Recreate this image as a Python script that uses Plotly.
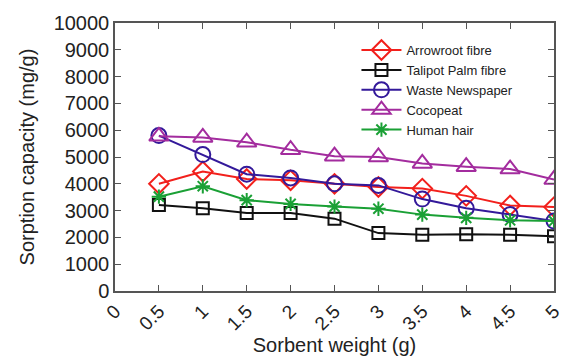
import plotly.graph_objects as go

sorbent_weight = [0.5, 1, 1.5, 2, 2.5, 3, 3.5, 4, 4.5, 5]
arrowroot = [4000, 4460, 4180, 4130, 4000, 3880, 3820, 3550, 3190, 3130]
talipot = [3210, 3090, 2910, 2910, 2700, 2160, 2100, 2120, 2100, 2040]
newspaper = [5800, 5090, 4360, 4220, 4000, 3940, 3430, 3090, 2850, 2610]
cocopeat = [5770, 5730, 5550, 5270, 5030, 5000, 4760, 4640, 4550, 4160]
human_hair = [3520, 3910, 3390, 3250, 3150, 3070, 2850, 2730, 2640, 2610]

x_ticks = [0, 0.5, 1, 1.5, 2, 2.5, 3, 3.5, 4, 4.5, 5]
x_tick_labels = ["0", "0.5", "1", "1.5", "2", "2.5", "3", "3.5", "4", "4.5", "5"]
y_ticks = list(range(0, 10001, 1000))
y_tick_labels = [str(v) for v in y_ticks]

series = [
    ("Arrowroot fibre", arrowroot, "#f2201c", "diamond-open", 15),
    ("Talipot Palm fibre", talipot, "#111111", "square-open", 12),
    ("Waste Newspaper", newspaper, "#33199a", "circle-open", 15),
    ("Cocopeat", cocopeat, "#a32c9e", "triangle-up-open", 17),
    ("Human hair", human_hair, "#1aa035", "asterisk-open", 12),
]

fig = go.Figure()
for name, vals, col, sym, sz in series:
    fig.add_trace(go.Scatter(
        x=sorbent_weight, y=vals, name=name, mode="lines+markers",
        line=dict(color=col, width=2),
        marker=dict(symbol=sym, size=sz, color=col, line=dict(color=col, width=2)),
    ))

font = "Liberation Sans, Arial, sans-serif"
fig.update_layout(
    width=576, height=364,
    margin=dict(l=115, r=19, t=17, b=72),
    paper_bgcolor="white", plot_bgcolor="white",
    font=dict(family=font, color="#222222", size=20),
    showlegend=True,
    legend=dict(x=0.55, y=0.955, xanchor="left", yanchor="top",
                bgcolor="rgba(0,0,0,0)", font=dict(size=13, color="#222222"),
                tracegroupgap=0, itemwidth=40),
    xaxis=dict(range=[0, 5], tickvals=x_ticks, ticktext=x_tick_labels,
               tickangle=-45, ticks="inside", ticklen=6, tickcolor="#555555",
               showline=True, linecolor="#555555", linewidth=1.5, mirror="ticks",
               showgrid=False, zeroline=False,
               title=dict(text="Sorbent weight (g)", font=dict(size=20), standoff=4),
               tickfont=dict(size=19)),
    yaxis=dict(range=[0, 10000], tickvals=y_ticks, ticktext=y_tick_labels,
               ticks="inside", ticklen=6,
               tickcolor="#555555", showline=True, linecolor="#555555", linewidth=1.5,
               mirror="ticks", showgrid=False, zeroline=False,
               title=dict(text="Sorption capacity (mg/g)", font=dict(size=20), standoff=14),
               tickfont=dict(size=20)),
)
fig.write_html("out.html")
